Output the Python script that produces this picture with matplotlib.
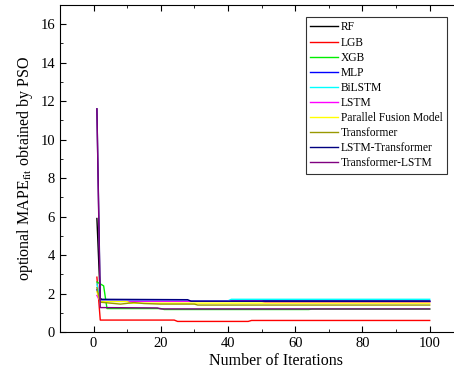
import matplotlib.pyplot as plt
from matplotlib.ticker import MultipleLocator

plt.rcParams['font.family'] = ['Liberation Serif', 'DejaVu Serif']
plt.rcParams['mathtext.fontset'] = 'stix'

# (iteration, best MAPE) change points for each model
models = ['RF', 'LGB', 'XGB', 'MLP', 'BiLSTM', 'LSTM', 'Parallel Fusion Model',
          'Transformer', 'LSTM-Transformer', 'Transformer-LSTM']
colors = ['#000000', '#ff0000', '#00ee00', '#0000ff', '#00ffff', '#ff00ff',
          '#ffff00', '#999900', '#000080', '#800080']

rf_x = [1, 2, 3, 100]
rf_y = [5.9, 1.75, 1.6, 1.6]
lgb_x = [1, 2, 24, 25, 46, 47, 100]
lgb_y = [2.85, 0.62, 0.62, 0.55, 0.55, 0.6, 0.6]
xgb_x = [1, 3, 4, 20, 21, 64, 65, 100]
xgb_y = [2.6, 2.4, 1.22, 1.22, 1.17, 1.17, 1.19, 1.19]
mlp_x = [1, 2, 100]
mlp_y = [2.2, 1.62, 1.6]
bilstm_x = [1, 2, 40, 41, 100]
bilstm_y = [2.5, 1.62, 1.62, 1.7, 1.7]
lstm_x = [1, 2, 50, 51, 100]
lstm_y = [1.9, 1.6, 1.6, 1.55, 1.55]
pfm_x = [1, 2, 10, 11, 100]
pfm_y = [2.1, 1.58, 1.58, 1.5, 1.5]
trans_x = [1, 2, 5, 8, 12, 15, 20, 25, 30, 31, 100]
trans_y = [2.3, 1.55, 1.5, 1.45, 1.53, 1.48, 1.45, 1.45, 1.45, 1.4, 1.4]
lt_x = [1, 2, 28, 29, 100]
lt_y = [11.6, 1.7, 1.68, 1.6, 1.6]
tl_x = [1, 2, 19, 20, 100]
tl_y = [11.6, 1.27, 1.25, 1.2, 1.2]

xs = [rf_x, lgb_x, xgb_x, mlp_x, bilstm_x, lstm_x, pfm_x, trans_x, lt_x, tl_x]
ys = [rf_y, lgb_y, xgb_y, mlp_y, bilstm_y, lstm_y, pfm_y, trans_y, lt_y, tl_y]

fig = plt.figure(figsize=(4.54, 3.79), dpi=100)
# right edge of the axes runs past the image edge, as in the reference
ax = fig.add_axes([0.132, 0.124, 0.95, 0.863])

for name, c, x, y in zip(models, colors, xs, ys):
    ax.plot(x, y, color=c, lw=1.0, label=name)

ax.set_xlim(-10, 118.3)
ax.set_ylim(0, 17)
ax.xaxis.set_minor_locator(MultipleLocator(10))
ax.set_xticks([0, 20, 40, 60, 80, 100])
ax.yaxis.set_major_locator(MultipleLocator(2))
ax.yaxis.set_minor_locator(MultipleLocator(1))
ax.tick_params(which='both', direction='in', top=True, right=True, labelsize=10.5)
ax.tick_params(which='major', length=4)
ax.tick_params(which='minor', length=2)

ax.set_xlabel('Number of Iterations', fontsize=11.5, labelpad=2)
ax.set_ylabel(r'optional MAPE$_{\mathrm{fit}}$ obtained by PSO', fontsize=11.5)

leg = ax.legend(loc='upper right', bbox_to_anchor=(0.984, 0.954),
                bbox_transform=fig.transFigure, fontsize=8.3, frameon=True,
                fancybox=False, edgecolor='black', handlelength=2.4,
                handletextpad=0.25, labelspacing=0.27, borderpad=0.35,
                borderaxespad=0)
leg.get_frame().set_linewidth(0.8)

plt.savefig('out.png', dpi=100)
